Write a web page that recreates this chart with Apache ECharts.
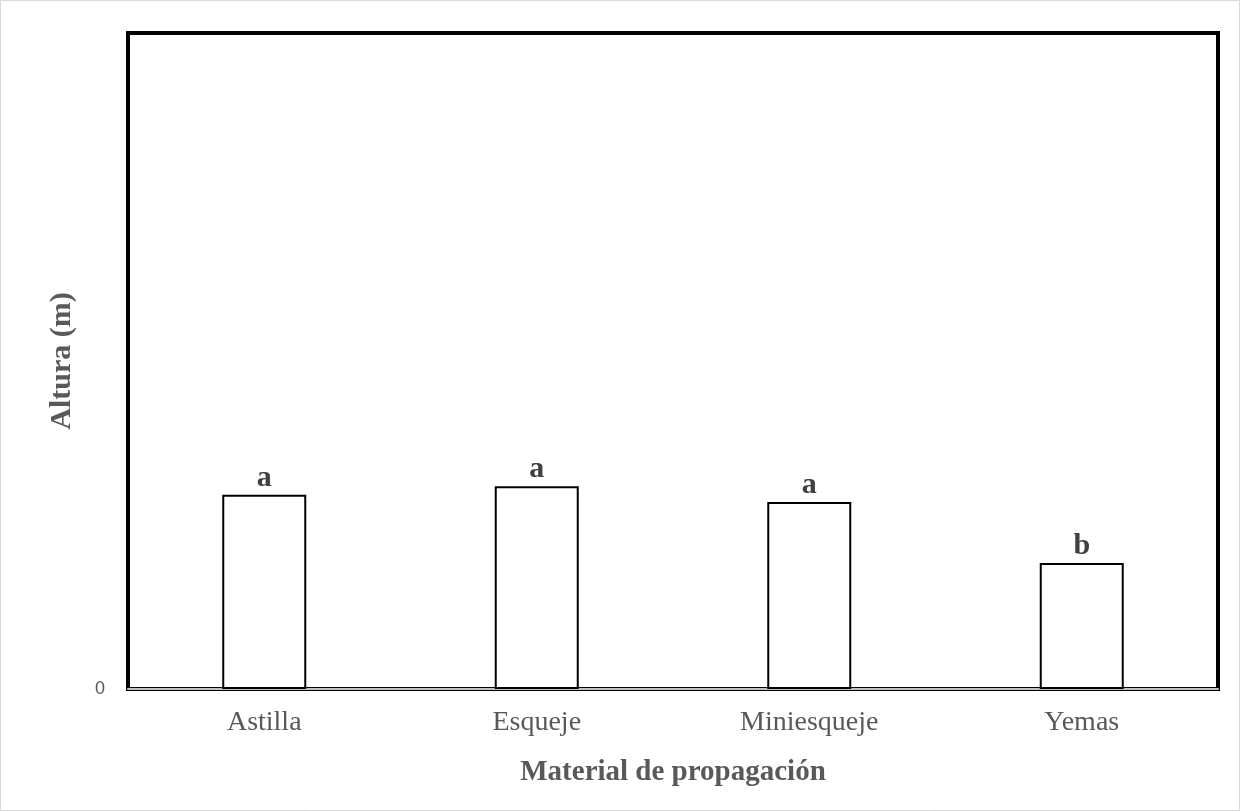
<!DOCTYPE html>
<html>
<head>
<meta charset="utf-8">
<script src="https://cdn.jsdelivr.net/npm/echarts@6/dist/echarts.min.js"></script>
<style>
  html, body { margin: 0; padding: 0; background: #fff; }
  #chart { width: 1240px; height: 811px; }
</style>
</head>
<body>
<div id="chart"></div>
<script>
// Plant height by propagation material, with mean-separation letters
const categories = ['Astilla', 'Esqueje', 'Miniesqueje', 'Yemas'];
const heights = [0.296, 0.309, 0.285, 0.192];
const letters = ['a', 'a', 'a', 'b'];
const yTicks = [0];

const chart = echarts.init(document.getElementById('chart'));

chart.setOption({
  backgroundColor: '#fff',
  animation: false,
  graphic: [{
    type: 'rect',
    shape: { x: 0.5, y: 0.5, width: 1239, height: 810 },
    style: { fill: 'none', stroke: '#d9d9d9', lineWidth: 1 },
    silent: true
  }],
  grid: {
    left: 128, right: 22, top: 33, bottom: 122,
    show: true,
    borderColor: '#000',
    borderWidth: 4
  },
  xAxis: {
    type: 'category',
    data: categories,
    name: 'Material de propagación',
    nameLocation: 'middle',
    nameGap: 69,
    nameTextStyle: {
      fontFamily: 'Liberation Serif',
      fontWeight: 'bold',
      fontSize: 29,
      color: '#595959'
    },
    axisLine: { show: true, lineStyle: { color: '#bfbfbf', width: 2 } },
    axisTick: { show: false },
    axisLabel: {
      fontFamily: 'Liberation Serif',
      fontSize: 28,
      color: '#595959',
      margin: 20
    }
  },
  yAxis: {
    type: 'value',
    min: 0,
    max: 1,
    interval: 1,
    name: 'Altura (m)',
    nameLocation: 'middle',
    nameGap: 51,
    nameRotate: 90,
    nameTextStyle: {
      fontFamily: 'Liberation Serif',
      fontWeight: 'bold',
      fontSize: 30,
      color: '#595959'
    },
    axisLine: { show: false },
    axisTick: { show: false },
    splitLine: { show: false },
    axisLabel: {
      fontFamily: 'Liberation Sans',
      fontSize: 18,
      color: '#595959',
      margin: 23,
      formatter: v => (yTicks.indexOf(v) >= 0 ? String(v) : '')
    }
  },
  series: [{
    type: 'bar',
    data: heights,
    barWidth: 84,
    itemStyle: {
      color: '#fff',
      borderColor: '#000',
      borderWidth: 2
    },
    label: {
      show: true,
      position: 'top',
      distance: 2,
      fontFamily: 'Liberation Serif',
      fontWeight: 'bold',
      fontSize: 30,
      color: '#404040',
      formatter: p => letters[p.dataIndex]
    }
  }]
});
</script>
</body>
</html>
